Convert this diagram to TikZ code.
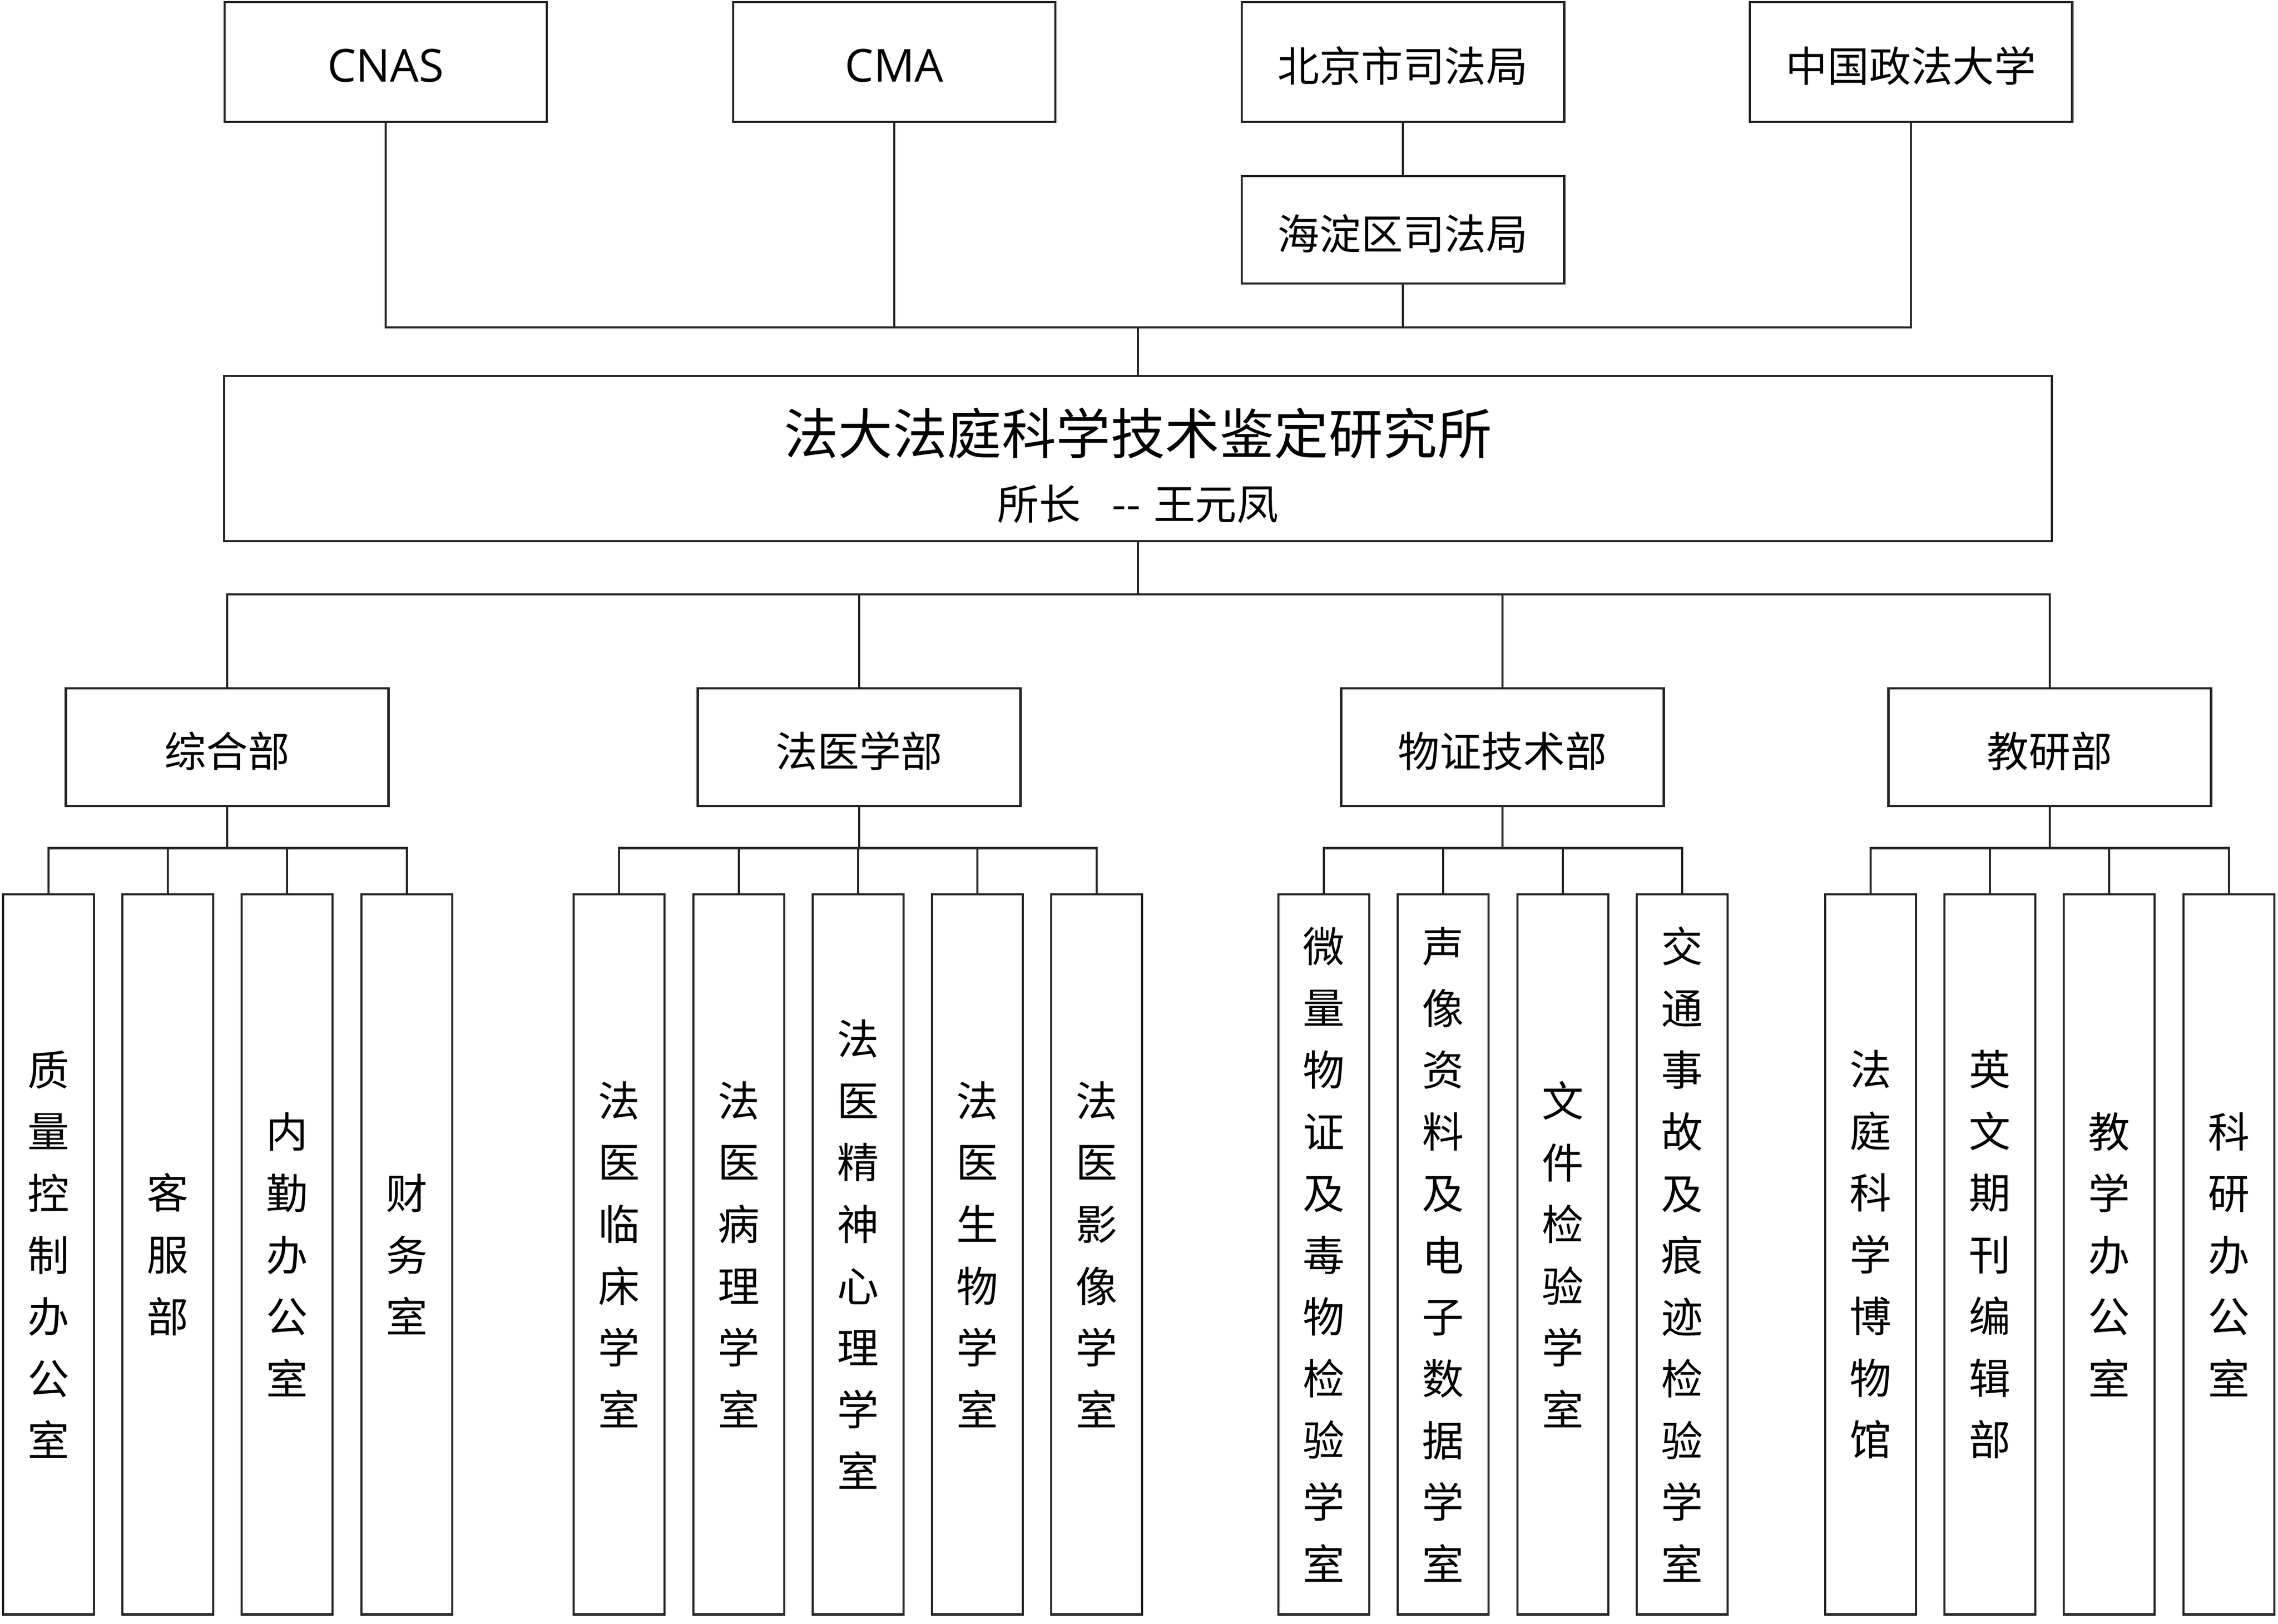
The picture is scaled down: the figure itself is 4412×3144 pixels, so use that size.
\documentclass[tikz,border=0pt]{standalone}
\usepackage{fontspec}
\setmainfont{Noto Sans CJK SC}
\newfontfamily\latinfont{Open Sans}
\usetikzlibrary{calc}
\tikzset{
	orgbox/.style = {
		draw=black!85,
		line width=1.3pt,
		align=center,
		inner sep=0pt,
		text centered,
		font=\fontsize{23}{34}\selectfont
	},
	node_top/.style = {
		orgbox,
		text height=1.0cm,
		text depth=0.24cm,
		minimum width=6.24cm,
		minimum height=2.32cm
	},
	node_mid/.style = {
		node_top,
		minimum height=2.08cm
	},
	node_inst/.style = {
		orgbox,
		text height=2.6cm,
		text depth=0.24cm,
		minimum width=35.38cm,
		minimum height=3.2cm,
		font=\fontsize{23}{36}\selectfont
	},
	node_dept/.style = {
		orgbox,
		text height=1.0cm,
		text depth=0.24cm,
		minimum width=6.25cm,
		minimum height=2.28cm
	},
	node_leaf/.style = {
		orgbox,
		anchor=south,
		minimum width=1.76cm,
		minimum height=13.94cm
	},
	link/.style = {
		draw=black!85,
		line width=1.3pt
	},
}
\begin{document}
\begin{tikzpicture}[x=0.01cm, y=-0.01cm]
\useasboundingbox (0,0) rectangle (4412,3144);
% top row
\node [node_top] (cnas) at (747,120) {\latinfont\fontsize{25}{34}\selectfont CNAS};
\node [node_top] (cma) at (1732,120) {\latinfont\fontsize{25}{34}\selectfont CMA};
\node [node_top] (bjsf) at (2717,120) {北京市司法局};
\node [node_mid] (hdsf) at (2717,445) {海淀区司法局};
\node [node_top] (zgzf) at (3701,120) {中国政法大学};
% institute
\node [node_inst] (inst) at (2204,888) {{\fontsize{30}{36}\selectfont 法大法庭科学技术鉴定研究所}\\所长\hspace{0.75em}-\kern0pt-\hspace{0.3em}王元凤};
\coordinate (topbus) at (2204,634);
\coordinate (midbus) at (2204,1151);
\draw [link] (cnas) |- (topbus);
\draw [link] (cma) |- (topbus);
\draw [link] (bjsf) -- (hdsf);
\draw [link] (hdsf) |- (topbus);
\draw [link] (zgzf) |- (topbus);
\draw [link] (topbus) -- (inst);
% departments
\node [node_dept] (zonghe) at (440,1447) {综合部};
\node [node_dept] (fayi) at (1664,1447) {法医学部};
\node [node_dept] (wuzheng) at (2910,1447) {物证技术部};
\node [node_dept] (jiaoyan) at (3970,1447) {教研部};
\draw [link] (inst) -- (midbus);
\foreach \dept in {zonghe,fayi,wuzheng,jiaoyan}
	\draw [link] (midbus) -| (\dept);
% offices
\node [node_leaf] (zonghe1) at (94,3129) {质\\量\\控\\制\\办\\公\\室};
\node [node_leaf] (zonghe2) at (325,3129) {客\\服\\部};
\node [node_leaf] (zonghe3) at (556,3129) {内\\勤\\办\\公\\室};
\node [node_leaf] (zonghe4) at (788,3129) {财\\务\\室};
\node [node_leaf] (fayi1) at (1199,3129) {法\\医\\临\\床\\学\\室};
\node [node_leaf] (fayi2) at (1431,3129) {法\\医\\病\\理\\学\\室};
\node [node_leaf] (fayi3) at (1662,3129) {法\\医\\精\\神\\心\\理\\学\\室};
\node [node_leaf] (fayi4) at (1893,3129) {法\\医\\生\\物\\学\\室};
\node [node_leaf] (fayi5) at (2124,3129) {法\\医\\影\\像\\学\\室};
\node [node_leaf] (wuzheng1) at (2564,3129) {微\\量\\物\\证\\及\\毒\\物\\检\\验\\学\\室};
\node [node_leaf] (wuzheng2) at (2795,3129) {声\\像\\资\\料\\及\\电\\子\\数\\据\\学\\室};
\node [node_leaf] (wuzheng3) at (3027,3129) {文\\件\\检\\验\\学\\室};
\node [node_leaf] (wuzheng4) at (3258,3129) {交\\通\\事\\故\\及\\痕\\迹\\检\\验\\学\\室};
\node [node_leaf] (jiaoyan1) at (3623,3129) {法\\庭\\科\\学\\博\\物\\馆};
\node [node_leaf] (jiaoyan2) at (3854,3129) {英\\文\\期\\刊\\编\\辑\\部};
\node [node_leaf] (jiaoyan3) at (4085,3129) {教\\学\\办\\公\\室};
\node [node_leaf] (jiaoyan4) at (4317,3129) {科\\研\\办\\公\\室};
% sub buses
\foreach \dept/\n in {zonghe/4,fayi/5,wuzheng/4,jiaoyan/4} {
	\coordinate (\dept bus) at ($(\dept.south)+(0,79)$);
	\draw [link] (\dept) -- (\dept bus);
	\foreach \i in {1,...,\n}
		\draw [link] (\dept bus) -| (\dept\i);
}
\end{tikzpicture}
\end{document}
